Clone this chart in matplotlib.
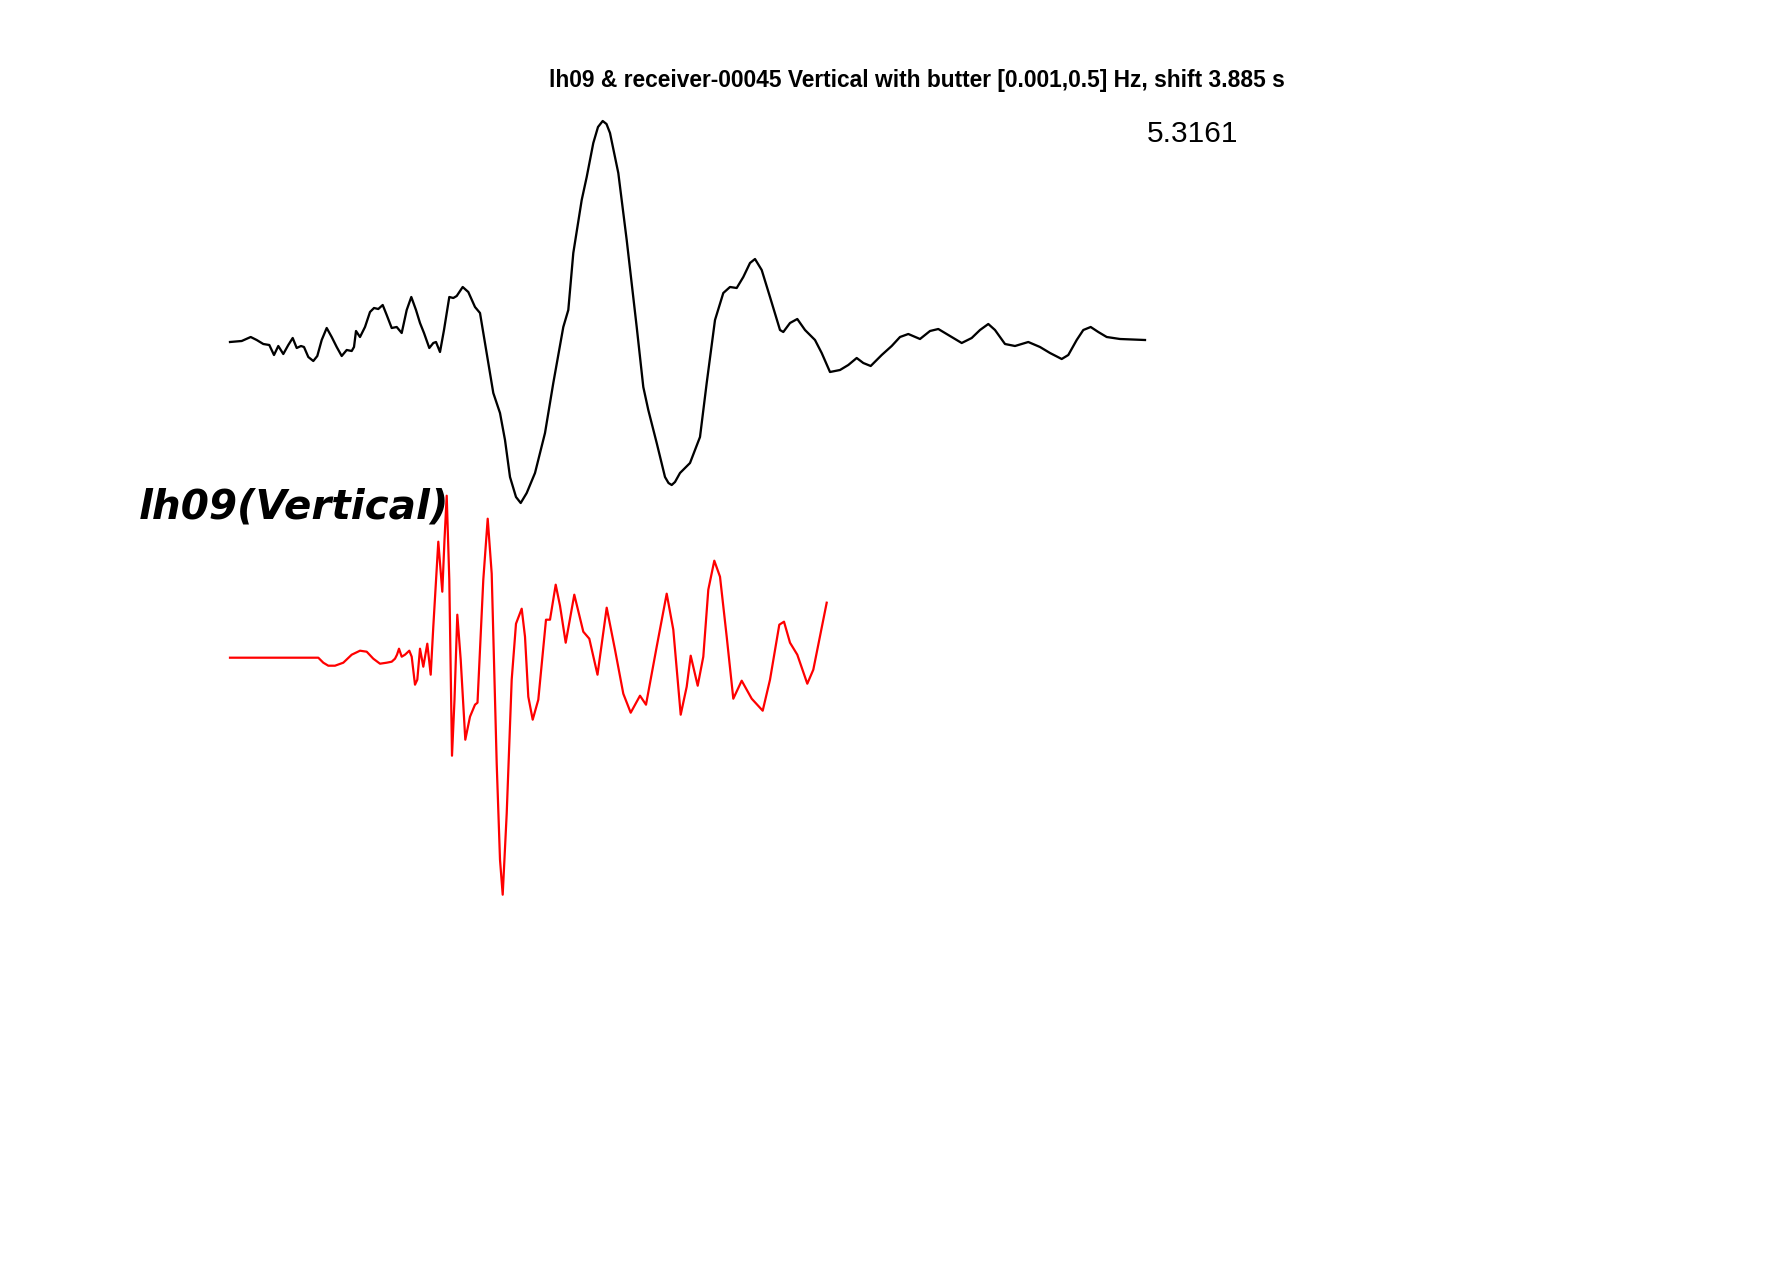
import numpy as np
import matplotlib
matplotlib.use("Agg")
import matplotlib.pyplot as plt

# ---- data: black trace (lh09, vertical), time in s and amplitude ----
t_obs = [0.00, 2.34, 4.14, 5.34, 6.66, 7.86, 8.80, 9.66, 10.66, 11.66, 12.54, 13.34,
         14.20, 14.80, 15.66, 16.66, 17.46, 18.34, 19.34, 20.34, 21.34, 22.34, 23.34,
         24.34, 24.80, 25.20, 26.00, 27.00, 28.00, 28.80, 29.66, 30.54, 31.34, 32.34,
         33.34, 34.34, 35.34, 36.26, 37.20, 38.00, 38.80, 39.86, 40.66, 41.20, 42.00,
         42.80, 43.86, 44.66, 45.34, 46.54, 47.66, 49.00, 50.00, 51.34, 52.66, 54.00,
         55.00, 56.00, 57.20, 58.14, 59.34, 61.00, 63.00, 64.66, 66.66, 67.66, 68.66,
         70.34, 71.34, 72.66, 73.60, 74.54, 75.30, 76.00, 77.66, 79.34, 81.34, 82.66,
         83.66, 85.34, 87.00, 87.70, 88.34, 89.00, 90.00, 92.00, 94.00, 95.34, 97.00,
         98.66, 100.00, 101.34, 102.66, 104.00, 105.00, 106.34, 108.00, 110.00, 110.66,
         112.00, 113.46, 115.00, 117.00, 118.34, 120.00, 122.00, 123.66, 125.34, 126.66,
         128.14, 130.34, 132.34, 134.00, 135.66, 138.00, 140.00, 141.66, 143.66, 146.34,
         148.34, 150.00, 151.66, 153.00, 155.00, 157.00, 159.66, 162.00, 164.00, 166.34,
         167.66, 169.34, 170.66, 172.14, 173.66, 175.34, 178.00, 183.00]
a_obs = [-0.02, -0.01, 0.03, 0.00, -0.04, -0.05, -0.15, -0.06, -0.14, -0.05, 0.02, -0.08,
         -0.06, -0.07, -0.17, -0.21, -0.16, 0.00, 0.12, 0.03, -0.07, -0.16, -0.10,
         -0.11, -0.07, 0.09, 0.03, 0.13, 0.28, 0.32, 0.31, 0.35, 0.25, 0.12,
         0.13, 0.07, 0.30, 0.43, 0.30, 0.17, 0.07, -0.08, -0.03, -0.02, -0.12,
         0.10, 0.43, 0.42, 0.44, 0.53, 0.48, 0.33, 0.27, -0.13, -0.53, -0.73,
         -1.00, -1.37, -1.57, -1.63, -1.53, -1.33, -0.93, -0.43, 0.13, 0.30, 0.87,
         1.40, 1.63, 1.97, 2.13, 2.19, 2.16, 2.07, 1.67, 1.00, 0.13, -0.47,
         -0.70, -1.03, -1.37, -1.43, -1.45, -1.42, -1.33, -1.23, -0.97, -0.43, 0.20,
         0.47, 0.53, 0.52, 0.63, 0.77, 0.81, 0.70, 0.43, 0.10, 0.08,
         0.17, 0.21, 0.10, 0.00, -0.13, -0.32, -0.30, -0.25, -0.18, -0.23,
         -0.26, -0.15, -0.06, 0.03, 0.06, 0.01, 0.09, 0.11, 0.05, -0.03,
         0.02, 0.10, 0.16, 0.10, -0.04, -0.06, -0.02, -0.07, -0.13, -0.19,
         -0.15, 0.00, 0.10, 0.13, 0.08, 0.03, 0.01, 0.00]

# ---- data: red trace (receiver-00045 synthetic) ----
t_syn = [0.00, 17.66, 18.66, 19.66, 21.00, 22.66, 24.34, 26.00, 27.34, 28.66, 30.00,
         31.34, 32.34, 33.00, 33.40, 33.80, 34.34, 35.00, 35.86, 36.34, 37.00, 37.46,
         38.00, 38.66, 39.46, 40.14, 40.66, 41.66, 42.46, 42.90, 43.34, 43.86, 44.40,
         44.90, 45.46, 46.14, 47.06, 48.00, 49.00, 49.50, 50.66, 51.54, 52.34, 53.34,
         54.00, 54.54, 55.34, 56.34, 57.20, 58.34, 59.00, 59.66, 60.54, 61.66, 63.20,
         64.00, 65.14, 66.00, 67.14, 68.86, 70.66, 71.86, 73.50, 75.34, 77.00, 78.66,
         80.14, 82.00, 83.20, 85.34, 87.34, 88.66, 90.14, 91.34, 92.14, 93.54, 94.66,
         95.66, 96.86, 98.00, 99.34, 100.66, 102.34, 104.34, 106.54, 108.00, 109.86,
         110.80, 112.00, 113.46, 115.46, 116.66, 119.34]
a_syn = [0.00, 0.00, -0.05, -0.08, -0.08, -0.05, 0.03, 0.07, 0.06, -0.01, -0.06,
         -0.05, -0.04, -0.01, 0.03, 0.09, 0.01, 0.03, 0.07, 0.01, -0.27, -0.22,
         0.09, -0.09, 0.14, -0.17, 0.31, 1.16, 0.66, 1.18, 1.62, 0.78, -0.98,
         -0.42, 0.43, -0.02, -0.82, -0.59, -0.47, -0.45, 0.78, 1.39, 0.84, -1.06,
         -2.02, -2.37, -1.56, -0.22, 0.34, 0.49, 0.21, -0.39, -0.62, -0.42, 0.38,
         0.38, 0.73, 0.52, 0.15, 0.63, 0.26, 0.19, -0.17, 0.50, 0.08, -0.36,
         -0.55, -0.38, -0.47, 0.11, 0.64, 0.28, -0.57, -0.29, 0.02, -0.28, 0.01,
         0.68, 0.97, 0.81, 0.21, -0.41, -0.23, -0.41, -0.53, -0.22, 0.33,
         0.36, 0.15, 0.03, -0.26, -0.12, 0.55]

syn_offset = -3.177
title = "lh09 & receiver-00045 Vertical with butter [0.001,0.5] Hz, shift 3.885 s"
station_label = "lh09(Vertical)"
cc_value = "5.3161"

fig = plt.figure(figsize=(17.72, 12.65), dpi=100)
ax = fig.add_axes([0, 0, 1, 1])
ax.set_xlim(-46.0, 308.4)
ax.set_ylim(-9.25, 3.40)
ax.axis("off")

ax.plot(t_obs, a_obs, color="black", lw=1.65, solid_joinstyle="round")
ax.plot(t_syn, np.array(a_syn) + syn_offset, color=(1, 0, 0), lw=1.6,
        solid_joinstyle="round")

ax.text(t_obs[-1] + 0.3, 1.977, cc_value, fontsize=21.5, family="Liberation Sans",
        ha="left", va="baseline")
ax.text(-18.3, -1.78, station_label, fontsize=29.2, family="DejaVu Sans",
        fontweight="bold", fontstyle="oblique", ha="left", va="baseline")

fig.text(916.5 / 1772, 1 - 86.5 / 1265, title, fontsize=16.4,
         family="Liberation Sans", fontweight="bold", ha="center", va="baseline")

fig.savefig("out.png", dpi=100, facecolor="white")
